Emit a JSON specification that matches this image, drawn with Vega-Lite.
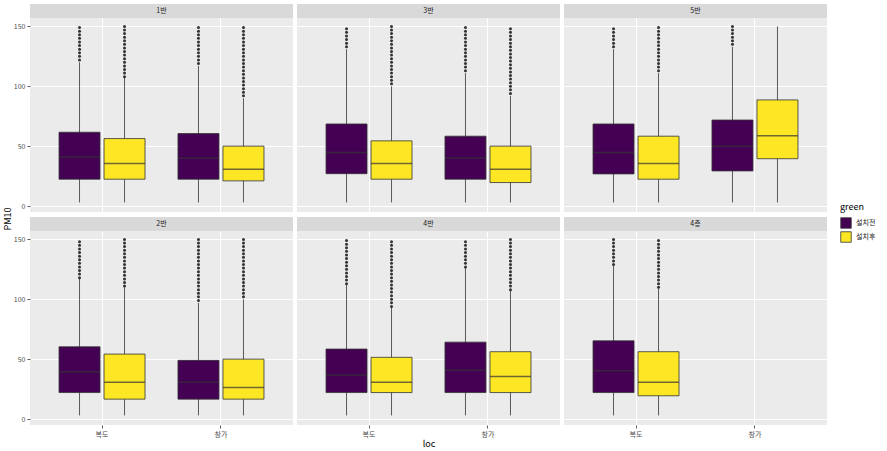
{
  "$schema": "https://vega.github.io/schema/vega-lite/v6.json",
  "padding": {"left": 4, "top": 4, "right": 5, "bottom": 5},
  "background": "#FFFFFF",
  "datasets": {
    "ytitle": [{"t": "PM10"}],
    "strips": [{"p": "1반"}, {"p": "3반"}, {"p": "5반"}, {"p": "2반"}, {"p": "4반"}, {"p": "4층"}],
    "boxes": [
      {"p": "1반", "l": "복도", "g": "설치전", "lo": 3, "q1": 22.4, "m": 40.9, "q3": 61.6, "hi": 120},
      {"p": "1반", "l": "복도", "g": "설치후", "lo": 3, "q1": 22.4, "m": 35.4, "q3": 56.3, "hi": 107},
      {"p": "1반", "l": "창가", "g": "설치전", "lo": 3, "q1": 22.4, "m": 39.8, "q3": 60.5, "hi": 117},
      {"p": "1반", "l": "창가", "g": "설치후", "lo": 3, "q1": 21, "m": 30.7, "q3": 50, "hi": 90},
      {"p": "3반", "l": "복도", "g": "설치전", "lo": 3, "q1": 27, "m": 44.7, "q3": 68.5, "hi": 131},
      {"p": "3반", "l": "복도", "g": "설치후", "lo": 3, "q1": 22.4, "m": 35.6, "q3": 54.4, "hi": 100},
      {"p": "3반", "l": "창가", "g": "설치전", "lo": 3, "q1": 22.4, "m": 40, "q3": 58.3, "hi": 111},
      {"p": "3반", "l": "창가", "g": "설치후", "lo": 3, "q1": 19.6, "m": 30.7, "q3": 50, "hi": 92},
      {"p": "5반", "l": "복도", "g": "설치전", "lo": 3, "q1": 26.8, "m": 44.7, "q3": 68.5, "hi": 131},
      {"p": "5반", "l": "복도", "g": "설치후", "lo": 3, "q1": 22.4, "m": 35.6, "q3": 58.3, "hi": 111},
      {"p": "5반", "l": "창가", "g": "설치전", "lo": 3, "q1": 29.3, "m": 50, "q3": 71.8, "hi": 133},
      {"p": "5반", "l": "창가", "g": "설치후", "lo": 3, "q1": 39.5, "m": 58.6, "q3": 88.6, "hi": 150},
      {"p": "2반", "l": "복도", "g": "설치전", "lo": 3, "q1": 22.1, "m": 39.5, "q3": 60.3, "hi": 117},
      {"p": "2반", "l": "복도", "g": "설치후", "lo": 3, "q1": 16.6, "m": 30.7, "q3": 54.2, "hi": 110},
      {"p": "2반", "l": "창가", "g": "설치전", "lo": 3, "q1": 16.6, "m": 30.7, "q3": 49, "hi": 97},
      {"p": "2반", "l": "창가", "g": "설치후", "lo": 3, "q1": 16.6, "m": 26.3, "q3": 50, "hi": 100},
      {"p": "4반", "l": "복도", "g": "설치전", "lo": 3, "q1": 22.1, "m": 36.8, "q3": 58.4, "hi": 112},
      {"p": "4반", "l": "복도", "g": "설치후", "lo": 3, "q1": 22.1, "m": 30.7, "q3": 51.5, "hi": 93},
      {"p": "4반", "l": "창가", "g": "설치전", "lo": 3, "q1": 22.1, "m": 40.7, "q3": 64.2, "hi": 126},
      {"p": "4반", "l": "창가", "g": "설치후", "lo": 3, "q1": 22.1, "m": 35.4, "q3": 56.2, "hi": 107},
      {"p": "4층", "l": "복도", "g": "설치전", "lo": 3, "q1": 22.1, "m": 40.4, "q3": 65.3, "hi": 128},
      {"p": "4층", "l": "복도", "g": "설치후", "lo": 3, "q1": 19.4, "m": 30.7, "q3": 56.2, "hi": 109}
    ],
    "outs": [
      {"p":"1반","l":"복도","g":"설치전","v":122},{"p":"1반","l":"복도","g":"설치전","v":125},{"p":"1반","l":"복도","g":"설치전","v":128},{"p":"1반","l":"복도","g":"설치전","v":131},{"p":"1반","l":"복도","g":"설치전","v":134},{"p":"1반","l":"복도","g":"설치전","v":137},{"p":"1반","l":"복도","g":"설치전","v":140},{"p":"1반","l":"복도","g":"설치전","v":143},{"p":"1반","l":"복도","g":"설치전","v":146},{"p":"1반","l":"복도","g":"설치전","v":149},
      {"p":"1반","l":"복도","g":"설치후","v":108},{"p":"1반","l":"복도","g":"설치후","v":111},{"p":"1반","l":"복도","g":"설치후","v":114},{"p":"1반","l":"복도","g":"설치후","v":117},{"p":"1반","l":"복도","g":"설치후","v":120},{"p":"1반","l":"복도","g":"설치후","v":123},{"p":"1반","l":"복도","g":"설치후","v":126},{"p":"1반","l":"복도","g":"설치후","v":129},{"p":"1반","l":"복도","g":"설치후","v":132},{"p":"1반","l":"복도","g":"설치후","v":135},{"p":"1반","l":"복도","g":"설치후","v":138},{"p":"1반","l":"복도","g":"설치후","v":141},{"p":"1반","l":"복도","g":"설치후","v":144},{"p":"1반","l":"복도","g":"설치후","v":147},{"p":"1반","l":"복도","g":"설치후","v":150},
      {"p":"1반","l":"창가","g":"설치전","v":119},{"p":"1반","l":"창가","g":"설치전","v":122},{"p":"1반","l":"창가","g":"설치전","v":125},{"p":"1반","l":"창가","g":"설치전","v":128},{"p":"1반","l":"창가","g":"설치전","v":131},{"p":"1반","l":"창가","g":"설치전","v":134},{"p":"1반","l":"창가","g":"설치전","v":137},{"p":"1반","l":"창가","g":"설치전","v":140},{"p":"1반","l":"창가","g":"설치전","v":143},{"p":"1반","l":"창가","g":"설치전","v":146},{"p":"1반","l":"창가","g":"설치전","v":149},
      {"p":"1반","l":"창가","g":"설치후","v":92},{"p":"1반","l":"창가","g":"설치후","v":95},{"p":"1반","l":"창가","g":"설치후","v":98},{"p":"1반","l":"창가","g":"설치후","v":101},{"p":"1반","l":"창가","g":"설치후","v":104},{"p":"1반","l":"창가","g":"설치후","v":107},{"p":"1반","l":"창가","g":"설치후","v":110},{"p":"1반","l":"창가","g":"설치후","v":113},{"p":"1반","l":"창가","g":"설치후","v":116},{"p":"1반","l":"창가","g":"설치후","v":119},{"p":"1반","l":"창가","g":"설치후","v":122},{"p":"1반","l":"창가","g":"설치후","v":125},{"p":"1반","l":"창가","g":"설치후","v":128},{"p":"1반","l":"창가","g":"설치후","v":131},{"p":"1반","l":"창가","g":"설치후","v":134},{"p":"1반","l":"창가","g":"설치후","v":137},{"p":"1반","l":"창가","g":"설치후","v":140},{"p":"1반","l":"창가","g":"설치후","v":143},{"p":"1반","l":"창가","g":"설치후","v":146},{"p":"1반","l":"창가","g":"설치후","v":149},
      {"p":"3반","l":"복도","g":"설치전","v":133},{"p":"3반","l":"복도","g":"설치전","v":136},{"p":"3반","l":"복도","g":"설치전","v":139},{"p":"3반","l":"복도","g":"설치전","v":142},{"p":"3반","l":"복도","g":"설치전","v":145},{"p":"3반","l":"복도","g":"설치전","v":148},
      {"p":"3반","l":"복도","g":"설치후","v":102},{"p":"3반","l":"복도","g":"설치후","v":105},{"p":"3반","l":"복도","g":"설치후","v":108},{"p":"3반","l":"복도","g":"설치후","v":111},{"p":"3반","l":"복도","g":"설치후","v":114},{"p":"3반","l":"복도","g":"설치후","v":117},{"p":"3반","l":"복도","g":"설치후","v":120},{"p":"3반","l":"복도","g":"설치후","v":123},{"p":"3반","l":"복도","g":"설치후","v":126},{"p":"3반","l":"복도","g":"설치후","v":129},{"p":"3반","l":"복도","g":"설치후","v":132},{"p":"3반","l":"복도","g":"설치후","v":135},{"p":"3반","l":"복도","g":"설치후","v":138},{"p":"3반","l":"복도","g":"설치후","v":141},{"p":"3반","l":"복도","g":"설치후","v":144},{"p":"3반","l":"복도","g":"설치후","v":147},{"p":"3반","l":"복도","g":"설치후","v":150},
      {"p":"3반","l":"창가","g":"설치전","v":113},{"p":"3반","l":"창가","g":"설치전","v":116},{"p":"3반","l":"창가","g":"설치전","v":119},{"p":"3반","l":"창가","g":"설치전","v":122},{"p":"3반","l":"창가","g":"설치전","v":125},{"p":"3반","l":"창가","g":"설치전","v":128},{"p":"3반","l":"창가","g":"설치전","v":131},{"p":"3반","l":"창가","g":"설치전","v":134},{"p":"3반","l":"창가","g":"설치전","v":137},{"p":"3반","l":"창가","g":"설치전","v":140},{"p":"3반","l":"창가","g":"설치전","v":143},{"p":"3반","l":"창가","g":"설치전","v":146},{"p":"3반","l":"창가","g":"설치전","v":149},
      {"p":"3반","l":"창가","g":"설치후","v":94},{"p":"3반","l":"창가","g":"설치후","v":97},{"p":"3반","l":"창가","g":"설치후","v":100},{"p":"3반","l":"창가","g":"설치후","v":103},{"p":"3반","l":"창가","g":"설치후","v":106},{"p":"3반","l":"창가","g":"설치후","v":109},{"p":"3반","l":"창가","g":"설치후","v":112},{"p":"3반","l":"창가","g":"설치후","v":115},{"p":"3반","l":"창가","g":"설치후","v":118},{"p":"3반","l":"창가","g":"설치후","v":121},{"p":"3반","l":"창가","g":"설치후","v":124},{"p":"3반","l":"창가","g":"설치후","v":127},{"p":"3반","l":"창가","g":"설치후","v":130},{"p":"3반","l":"창가","g":"설치후","v":133},{"p":"3반","l":"창가","g":"설치후","v":136},{"p":"3반","l":"창가","g":"설치후","v":139},{"p":"3반","l":"창가","g":"설치후","v":142},{"p":"3반","l":"창가","g":"설치후","v":145},{"p":"3반","l":"창가","g":"설치후","v":148},
      {"p":"5반","l":"복도","g":"설치전","v":133},{"p":"5반","l":"복도","g":"설치전","v":136},{"p":"5반","l":"복도","g":"설치전","v":139},{"p":"5반","l":"복도","g":"설치전","v":142},{"p":"5반","l":"복도","g":"설치전","v":145},{"p":"5반","l":"복도","g":"설치전","v":148},
      {"p":"5반","l":"복도","g":"설치후","v":113},{"p":"5반","l":"복도","g":"설치후","v":116},{"p":"5반","l":"복도","g":"설치후","v":119},{"p":"5반","l":"복도","g":"설치후","v":122},{"p":"5반","l":"복도","g":"설치후","v":125},{"p":"5반","l":"복도","g":"설치후","v":128},{"p":"5반","l":"복도","g":"설치후","v":131},{"p":"5반","l":"복도","g":"설치후","v":134},{"p":"5반","l":"복도","g":"설치후","v":137},{"p":"5반","l":"복도","g":"설치후","v":140},{"p":"5반","l":"복도","g":"설치후","v":143},{"p":"5반","l":"복도","g":"설치후","v":146},{"p":"5반","l":"복도","g":"설치후","v":149},
      {"p":"5반","l":"창가","g":"설치전","v":135},{"p":"5반","l":"창가","g":"설치전","v":138},{"p":"5반","l":"창가","g":"설치전","v":141},{"p":"5반","l":"창가","g":"설치전","v":144},{"p":"5반","l":"창가","g":"설치전","v":147},{"p":"5반","l":"창가","g":"설치전","v":150},
      {"p":"2반","l":"복도","g":"설치전","v":118},{"p":"2반","l":"복도","g":"설치전","v":121},{"p":"2반","l":"복도","g":"설치전","v":124},{"p":"2반","l":"복도","g":"설치전","v":127},{"p":"2반","l":"복도","g":"설치전","v":130},{"p":"2반","l":"복도","g":"설치전","v":133},{"p":"2반","l":"복도","g":"설치전","v":136},{"p":"2반","l":"복도","g":"설치전","v":139},{"p":"2반","l":"복도","g":"설치전","v":142},{"p":"2반","l":"복도","g":"설치전","v":145},{"p":"2반","l":"복도","g":"설치전","v":148},
      {"p":"2반","l":"복도","g":"설치후","v":111},{"p":"2반","l":"복도","g":"설치후","v":114},{"p":"2반","l":"복도","g":"설치후","v":117},{"p":"2반","l":"복도","g":"설치후","v":120},{"p":"2반","l":"복도","g":"설치후","v":123},{"p":"2반","l":"복도","g":"설치후","v":126},{"p":"2반","l":"복도","g":"설치후","v":129},{"p":"2반","l":"복도","g":"설치후","v":132},{"p":"2반","l":"복도","g":"설치후","v":135},{"p":"2반","l":"복도","g":"설치후","v":138},{"p":"2반","l":"복도","g":"설치후","v":141},{"p":"2반","l":"복도","g":"설치후","v":144},{"p":"2반","l":"복도","g":"설치후","v":147},{"p":"2반","l":"복도","g":"설치후","v":150},
      {"p":"2반","l":"창가","g":"설치전","v":99},{"p":"2반","l":"창가","g":"설치전","v":102},{"p":"2반","l":"창가","g":"설치전","v":105},{"p":"2반","l":"창가","g":"설치전","v":108},{"p":"2반","l":"창가","g":"설치전","v":111},{"p":"2반","l":"창가","g":"설치전","v":114},{"p":"2반","l":"창가","g":"설치전","v":117},{"p":"2반","l":"창가","g":"설치전","v":120},{"p":"2반","l":"창가","g":"설치전","v":123},{"p":"2반","l":"창가","g":"설치전","v":126},{"p":"2반","l":"창가","g":"설치전","v":129},{"p":"2반","l":"창가","g":"설치전","v":132},{"p":"2반","l":"창가","g":"설치전","v":135},{"p":"2반","l":"창가","g":"설치전","v":138},{"p":"2반","l":"창가","g":"설치전","v":141},{"p":"2반","l":"창가","g":"설치전","v":144},{"p":"2반","l":"창가","g":"설치전","v":147},{"p":"2반","l":"창가","g":"설치전","v":150},
      {"p":"2반","l":"창가","g":"설치후","v":102},{"p":"2반","l":"창가","g":"설치후","v":105},{"p":"2반","l":"창가","g":"설치후","v":108},{"p":"2반","l":"창가","g":"설치후","v":111},{"p":"2반","l":"창가","g":"설치후","v":114},{"p":"2반","l":"창가","g":"설치후","v":117},{"p":"2반","l":"창가","g":"설치후","v":120},{"p":"2반","l":"창가","g":"설치후","v":123},{"p":"2반","l":"창가","g":"설치후","v":126},{"p":"2반","l":"창가","g":"설치후","v":129},{"p":"2반","l":"창가","g":"설치후","v":132},{"p":"2반","l":"창가","g":"설치후","v":135},{"p":"2반","l":"창가","g":"설치후","v":138},{"p":"2반","l":"창가","g":"설치후","v":141},{"p":"2반","l":"창가","g":"설치후","v":144},{"p":"2반","l":"창가","g":"설치후","v":147},{"p":"2반","l":"창가","g":"설치후","v":150},
      {"p":"4반","l":"복도","g":"설치전","v":113},{"p":"4반","l":"복도","g":"설치전","v":116},{"p":"4반","l":"복도","g":"설치전","v":119},{"p":"4반","l":"복도","g":"설치전","v":122},{"p":"4반","l":"복도","g":"설치전","v":125},{"p":"4반","l":"복도","g":"설치전","v":128},{"p":"4반","l":"복도","g":"설치전","v":131},{"p":"4반","l":"복도","g":"설치전","v":134},{"p":"4반","l":"복도","g":"설치전","v":137},{"p":"4반","l":"복도","g":"설치전","v":140},{"p":"4반","l":"복도","g":"설치전","v":143},{"p":"4반","l":"복도","g":"설치전","v":146},{"p":"4반","l":"복도","g":"설치전","v":149},
      {"p":"4반","l":"복도","g":"설치후","v":94},{"p":"4반","l":"복도","g":"설치후","v":97},{"p":"4반","l":"복도","g":"설치후","v":100},{"p":"4반","l":"복도","g":"설치후","v":103},{"p":"4반","l":"복도","g":"설치후","v":106},{"p":"4반","l":"복도","g":"설치후","v":109},{"p":"4반","l":"복도","g":"설치후","v":112},{"p":"4반","l":"복도","g":"설치후","v":115},{"p":"4반","l":"복도","g":"설치후","v":118},{"p":"4반","l":"복도","g":"설치후","v":121},{"p":"4반","l":"복도","g":"설치후","v":124},{"p":"4반","l":"복도","g":"설치후","v":127},{"p":"4반","l":"복도","g":"설치후","v":130},{"p":"4반","l":"복도","g":"설치후","v":133},{"p":"4반","l":"복도","g":"설치후","v":136},{"p":"4반","l":"복도","g":"설치후","v":139},{"p":"4반","l":"복도","g":"설치후","v":142},{"p":"4반","l":"복도","g":"설치후","v":145},{"p":"4반","l":"복도","g":"설치후","v":148},
      {"p":"4반","l":"창가","g":"설치전","v":127},{"p":"4반","l":"창가","g":"설치전","v":130},{"p":"4반","l":"창가","g":"설치전","v":133},{"p":"4반","l":"창가","g":"설치전","v":136},{"p":"4반","l":"창가","g":"설치전","v":139},{"p":"4반","l":"창가","g":"설치전","v":142},{"p":"4반","l":"창가","g":"설치전","v":145},{"p":"4반","l":"창가","g":"설치전","v":148},
      {"p":"4반","l":"창가","g":"설치후","v":108},{"p":"4반","l":"창가","g":"설치후","v":111},{"p":"4반","l":"창가","g":"설치후","v":114},{"p":"4반","l":"창가","g":"설치후","v":117},{"p":"4반","l":"창가","g":"설치후","v":120},{"p":"4반","l":"창가","g":"설치후","v":123},{"p":"4반","l":"창가","g":"설치후","v":126},{"p":"4반","l":"창가","g":"설치후","v":129},{"p":"4반","l":"창가","g":"설치후","v":132},{"p":"4반","l":"창가","g":"설치후","v":135},{"p":"4반","l":"창가","g":"설치후","v":138},{"p":"4반","l":"창가","g":"설치후","v":141},{"p":"4반","l":"창가","g":"설치후","v":144},{"p":"4반","l":"창가","g":"설치후","v":147},{"p":"4반","l":"창가","g":"설치후","v":150},
      {"p":"4층","l":"복도","g":"설치전","v":129},{"p":"4층","l":"복도","g":"설치전","v":132},{"p":"4층","l":"복도","g":"설치전","v":135},{"p":"4층","l":"복도","g":"설치전","v":138},{"p":"4층","l":"복도","g":"설치전","v":141},{"p":"4층","l":"복도","g":"설치전","v":144},{"p":"4층","l":"복도","g":"설치전","v":147},{"p":"4층","l":"복도","g":"설치전","v":150},
      {"p":"4층","l":"복도","g":"설치후","v":110},{"p":"4층","l":"복도","g":"설치후","v":113},{"p":"4층","l":"복도","g":"설치후","v":116},{"p":"4층","l":"복도","g":"설치후","v":119},{"p":"4층","l":"복도","g":"설치후","v":122},{"p":"4층","l":"복도","g":"설치후","v":125},{"p":"4층","l":"복도","g":"설치후","v":128},{"p":"4층","l":"복도","g":"설치후","v":131},{"p":"4층","l":"복도","g":"설치후","v":134},{"p":"4층","l":"복도","g":"설치후","v":137},{"p":"4층","l":"복도","g":"설치후","v":140},{"p":"4층","l":"복도","g":"설치후","v":143},{"p":"4층","l":"복도","g":"설치후","v":146},{"p":"4층","l":"복도","g":"설치후","v":149}
    ]
  },
  "spacing": 0,
  "hconcat": [
    {"width": 8, "height": 430, "view": {"fill": null, "stroke": null}, "data": {"name": "ytitle"}, "mark": {"type": "text", "angle": 270, "fontSize": 9, "color": "#000000", "font": "Noto Sans CJK KR"}, "encoding": {"text": {"field": "t"}, "x": {"field": "t", "type": "nominal", "axis": null}, "y": {"field": "t", "type": "nominal", "axis": null}}},
    {
  "spacing": 5,
  "vconcat": [
    {
      "spacing": 4,
      "hconcat": [
        {
          "spacing": 0,
          "vconcat": [
            {"width": 263, "height": 14, "view": {"fill": "#D9D9D9", "stroke": null}, "data": {"name": "strips"}, "transform": [{"filter": "datum.p === '1반'"}], "mark": {"type": "text", "fontSize": 7, "color": "#1A1A1A", "font": "Noto Sans CJK KR"}, "encoding": {"text": {"field": "p"}, "x": {"field": "p", "type": "nominal", "axis": null}, "y": {"field": "p", "type": "nominal", "axis": null}}},
            {"width": 263, "height": 194,
             "encoding": {
               "x": {"field": "l", "type": "nominal", "scale": {"domain": ["복도", "창가"], "paddingInner": 0.277, "paddingOuter": 0.244}, "axis": {"title": null, "labels": false, "ticks": false, "grid": true, "bandPosition": 0.5, "gridWidth": 1}},
               "xOffset": {"field": "g", "type": "nominal", "scale": {"domain": ["설치전", "설치후"], "paddingInner": 0.089, "paddingOuter": 0}}
             },
             "layer": [
               {"data": {"name": "boxes"}, "transform": [{"filter": "datum.p === '1반'"}], "mark": {"type": "rule", "color": "#333333", "strokeWidth": 0.8}, "encoding": {"y": {"field": "lo", "type": "quantitative", "scale": {"domain": [-5, 157], "nice": false, "zero": false}, "axis": {"title": null, "values": [0, 25, 50, 75, 100, 125, 150], "labelExpr": "datum.value % 50 === 0 ? datum.label : ''", "tickOpacity": {"condition": {"test": "datum.value % 50 === 0", "value": 1}, "value": 0}, "gridWidth": {"condition": {"test": "datum.value % 50 === 0", "value": 1}, "value": 0.5}}}, "y2": {"field": "hi"}}},
               {"data": {"name": "boxes"}, "transform": [{"filter": "datum.p === '1반'"}], "mark": {"type": "bar", "stroke": "#333333", "strokeWidth": 0.8}, "encoding": {"y": {"field": "q1", "type": "quantitative"}, "y2": {"field": "q3"}, "color": {"field": "g", "type": "nominal", "title": "green", "scale": {"domain": ["설치전", "설치후"], "range": ["#440154", "#FDE725"]}}}},
               {"data": {"name": "boxes"}, "transform": [{"filter": "datum.p === '1반'"}], "mark": {"type": "tick", "color": "#333333", "thickness": 1.5, "size": 41}, "encoding": {"y": {"field": "m", "type": "quantitative"}}},
               {"data": {"name": "outs"}, "transform": [{"filter": "datum.p === '1반'"}], "mark": {"type": "point", "filled": true, "color": "#333333", "size": 9, "opacity": 1}, "encoding": {"y": {"field": "v", "type": "quantitative"}}}
             ]
            }
          ]
        },
        {
          "spacing": 0,
          "vconcat": [
            {"width": 263, "height": 14, "view": {"fill": "#D9D9D9", "stroke": null}, "data": {"name": "strips"}, "transform": [{"filter": "datum.p === '3반'"}], "mark": {"type": "text", "fontSize": 7, "color": "#1A1A1A", "font": "Noto Sans CJK KR"}, "encoding": {"text": {"field": "p"}, "x": {"field": "p", "type": "nominal", "axis": null}, "y": {"field": "p", "type": "nominal", "axis": null}}},
            {"width": 263, "height": 194,
             "encoding": {
               "x": {"field": "l", "type": "nominal", "scale": {"domain": ["복도", "창가"], "paddingInner": 0.277, "paddingOuter": 0.244}, "axis": {"title": null, "labels": false, "ticks": false, "grid": true, "bandPosition": 0.5, "gridWidth": 1}},
               "xOffset": {"field": "g", "type": "nominal", "scale": {"domain": ["설치전", "설치후"], "paddingInner": 0.089, "paddingOuter": 0}}
             },
             "layer": [
               {"data": {"name": "boxes"}, "transform": [{"filter": "datum.p === '3반'"}], "mark": {"type": "rule", "color": "#333333", "strokeWidth": 0.8}, "encoding": {"y": {"field": "lo", "type": "quantitative", "scale": {"domain": [-5, 157], "nice": false, "zero": false}, "axis": {"title": null, "values": [0, 25, 50, 75, 100, 125, 150], "labels": false, "ticks": false, "gridWidth": {"condition": {"test": "datum.value % 50 === 0", "value": 1}, "value": 0.5}}}, "y2": {"field": "hi"}}},
               {"data": {"name": "boxes"}, "transform": [{"filter": "datum.p === '3반'"}], "mark": {"type": "bar", "stroke": "#333333", "strokeWidth": 0.8}, "encoding": {"y": {"field": "q1", "type": "quantitative"}, "y2": {"field": "q3"}, "color": {"field": "g", "type": "nominal", "title": "green", "scale": {"domain": ["설치전", "설치후"], "range": ["#440154", "#FDE725"]}}}},
               {"data": {"name": "boxes"}, "transform": [{"filter": "datum.p === '3반'"}], "mark": {"type": "tick", "color": "#333333", "thickness": 1.5, "size": 41}, "encoding": {"y": {"field": "m", "type": "quantitative"}}},
               {"data": {"name": "outs"}, "transform": [{"filter": "datum.p === '3반'"}], "mark": {"type": "point", "filled": true, "color": "#333333", "size": 9, "opacity": 1}, "encoding": {"y": {"field": "v", "type": "quantitative"}}}
             ]
            }
          ]
        },
        {
          "spacing": 0,
          "vconcat": [
            {"width": 263, "height": 14, "view": {"fill": "#D9D9D9", "stroke": null}, "data": {"name": "strips"}, "transform": [{"filter": "datum.p === '5반'"}], "mark": {"type": "text", "fontSize": 7, "color": "#1A1A1A", "font": "Noto Sans CJK KR"}, "encoding": {"text": {"field": "p"}, "x": {"field": "p", "type": "nominal", "axis": null}, "y": {"field": "p", "type": "nominal", "axis": null}}},
            {"width": 263, "height": 194,
             "encoding": {
               "x": {"field": "l", "type": "nominal", "scale": {"domain": ["복도", "창가"], "paddingInner": 0.277, "paddingOuter": 0.244}, "axis": {"title": null, "labels": false, "ticks": false, "grid": true, "bandPosition": 0.5, "gridWidth": 1}},
               "xOffset": {"field": "g", "type": "nominal", "scale": {"domain": ["설치전", "설치후"], "paddingInner": 0.089, "paddingOuter": 0}}
             },
             "layer": [
               {"data": {"name": "boxes"}, "transform": [{"filter": "datum.p === '5반'"}], "mark": {"type": "rule", "color": "#333333", "strokeWidth": 0.8}, "encoding": {"y": {"field": "lo", "type": "quantitative", "scale": {"domain": [-5, 157], "nice": false, "zero": false}, "axis": {"title": null, "values": [0, 25, 50, 75, 100, 125, 150], "labels": false, "ticks": false, "gridWidth": {"condition": {"test": "datum.value % 50 === 0", "value": 1}, "value": 0.5}}}, "y2": {"field": "hi"}}},
               {"data": {"name": "boxes"}, "transform": [{"filter": "datum.p === '5반'"}], "mark": {"type": "bar", "stroke": "#333333", "strokeWidth": 0.8}, "encoding": {"y": {"field": "q1", "type": "quantitative"}, "y2": {"field": "q3"}, "color": {"field": "g", "type": "nominal", "title": "green", "scale": {"domain": ["설치전", "설치후"], "range": ["#440154", "#FDE725"]}}}},
               {"data": {"name": "boxes"}, "transform": [{"filter": "datum.p === '5반'"}], "mark": {"type": "tick", "color": "#333333", "thickness": 1.5, "size": 41}, "encoding": {"y": {"field": "m", "type": "quantitative"}}},
               {"data": {"name": "outs"}, "transform": [{"filter": "datum.p === '5반'"}], "mark": {"type": "point", "filled": true, "color": "#333333", "size": 9, "opacity": 1}, "encoding": {"y": {"field": "v", "type": "quantitative"}}}
             ]
            }
          ]
        }
      ]
    },
    {
      "spacing": 4,
      "hconcat": [
        {
          "spacing": 0,
          "vconcat": [
            {"width": 263, "height": 14, "view": {"fill": "#D9D9D9", "stroke": null}, "data": {"name": "strips"}, "transform": [{"filter": "datum.p === '2반'"}], "mark": {"type": "text", "fontSize": 7, "color": "#1A1A1A", "font": "Noto Sans CJK KR"}, "encoding": {"text": {"field": "p"}, "x": {"field": "p", "type": "nominal", "axis": null}, "y": {"field": "p", "type": "nominal", "axis": null}}},
            {"width": 263, "height": 194,
             "encoding": {
               "x": {"field": "l", "type": "nominal", "scale": {"domain": ["복도", "창가"], "paddingInner": 0.277, "paddingOuter": 0.244}, "axis": {"title": null, "grid": true, "bandPosition": 0.5, "gridWidth": 1, "labelAngle": 0}},
               "xOffset": {"field": "g", "type": "nominal", "scale": {"domain": ["설치전", "설치후"], "paddingInner": 0.089, "paddingOuter": 0}}
             },
             "layer": [
               {"data": {"name": "boxes"}, "transform": [{"filter": "datum.p === '2반'"}], "mark": {"type": "rule", "color": "#333333", "strokeWidth": 0.8}, "encoding": {"y": {"field": "lo", "type": "quantitative", "scale": {"domain": [-5, 157], "nice": false, "zero": false}, "axis": {"title": null, "values": [0, 25, 50, 75, 100, 125, 150], "labelExpr": "datum.value % 50 === 0 ? datum.label : ''", "tickOpacity": {"condition": {"test": "datum.value % 50 === 0", "value": 1}, "value": 0}, "gridWidth": {"condition": {"test": "datum.value % 50 === 0", "value": 1}, "value": 0.5}}}, "y2": {"field": "hi"}}},
               {"data": {"name": "boxes"}, "transform": [{"filter": "datum.p === '2반'"}], "mark": {"type": "bar", "stroke": "#333333", "strokeWidth": 0.8}, "encoding": {"y": {"field": "q1", "type": "quantitative"}, "y2": {"field": "q3"}, "color": {"field": "g", "type": "nominal", "title": "green", "scale": {"domain": ["설치전", "설치후"], "range": ["#440154", "#FDE725"]}}}},
               {"data": {"name": "boxes"}, "transform": [{"filter": "datum.p === '2반'"}], "mark": {"type": "tick", "color": "#333333", "thickness": 1.5, "size": 41}, "encoding": {"y": {"field": "m", "type": "quantitative"}}},
               {"data": {"name": "outs"}, "transform": [{"filter": "datum.p === '2반'"}], "mark": {"type": "point", "filled": true, "color": "#333333", "size": 9, "opacity": 1}, "encoding": {"y": {"field": "v", "type": "quantitative"}}}
             ]
            }
          ]
        },
        {
          "spacing": 0,
          "vconcat": [
            {"width": 263, "height": 14, "view": {"fill": "#D9D9D9", "stroke": null}, "data": {"name": "strips"}, "transform": [{"filter": "datum.p === '4반'"}], "mark": {"type": "text", "fontSize": 7, "color": "#1A1A1A", "font": "Noto Sans CJK KR"}, "encoding": {"text": {"field": "p"}, "x": {"field": "p", "type": "nominal", "axis": null}, "y": {"field": "p", "type": "nominal", "axis": null}}},
            {"width": 263, "height": 194,
             "encoding": {
               "x": {"field": "l", "type": "nominal", "scale": {"domain": ["복도", "창가"], "paddingInner": 0.277, "paddingOuter": 0.244}, "axis": {"title": "loc", "grid": true, "bandPosition": 0.5, "gridWidth": 1, "labelAngle": 0}},
               "xOffset": {"field": "g", "type": "nominal", "scale": {"domain": ["설치전", "설치후"], "paddingInner": 0.089, "paddingOuter": 0}}
             },
             "layer": [
               {"data": {"name": "boxes"}, "transform": [{"filter": "datum.p === '4반'"}], "mark": {"type": "rule", "color": "#333333", "strokeWidth": 0.8}, "encoding": {"y": {"field": "lo", "type": "quantitative", "scale": {"domain": [-5, 157], "nice": false, "zero": false}, "axis": {"title": null, "values": [0, 25, 50, 75, 100, 125, 150], "labels": false, "ticks": false, "gridWidth": {"condition": {"test": "datum.value % 50 === 0", "value": 1}, "value": 0.5}}}, "y2": {"field": "hi"}}},
               {"data": {"name": "boxes"}, "transform": [{"filter": "datum.p === '4반'"}], "mark": {"type": "bar", "stroke": "#333333", "strokeWidth": 0.8}, "encoding": {"y": {"field": "q1", "type": "quantitative"}, "y2": {"field": "q3"}, "color": {"field": "g", "type": "nominal", "title": "green", "scale": {"domain": ["설치전", "설치후"], "range": ["#440154", "#FDE725"]}}}},
               {"data": {"name": "boxes"}, "transform": [{"filter": "datum.p === '4반'"}], "mark": {"type": "tick", "color": "#333333", "thickness": 1.5, "size": 41}, "encoding": {"y": {"field": "m", "type": "quantitative"}}},
               {"data": {"name": "outs"}, "transform": [{"filter": "datum.p === '4반'"}], "mark": {"type": "point", "filled": true, "color": "#333333", "size": 9, "opacity": 1}, "encoding": {"y": {"field": "v", "type": "quantitative"}}}
             ]
            }
          ]
        },
        {
          "spacing": 0,
          "vconcat": [
            {"width": 263, "height": 14, "view": {"fill": "#D9D9D9", "stroke": null}, "data": {"name": "strips"}, "transform": [{"filter": "datum.p === '4층'"}], "mark": {"type": "text", "fontSize": 7, "color": "#1A1A1A", "font": "Noto Sans CJK KR"}, "encoding": {"text": {"field": "p"}, "x": {"field": "p", "type": "nominal", "axis": null}, "y": {"field": "p", "type": "nominal", "axis": null}}},
            {"width": 263, "height": 194,
             "encoding": {
               "x": {"field": "l", "type": "nominal", "scale": {"domain": ["복도", "창가"], "paddingInner": 0.277, "paddingOuter": 0.244}, "axis": {"title": null, "grid": true, "bandPosition": 0.5, "gridWidth": 1, "labelAngle": 0}},
               "xOffset": {"field": "g", "type": "nominal", "scale": {"domain": ["설치전", "설치후"], "paddingInner": 0.089, "paddingOuter": 0}}
             },
             "layer": [
               {"data": {"name": "boxes"}, "transform": [{"filter": "datum.p === '4층'"}], "mark": {"type": "rule", "color": "#333333", "strokeWidth": 0.8}, "encoding": {"y": {"field": "lo", "type": "quantitative", "scale": {"domain": [-5, 157], "nice": false, "zero": false}, "axis": {"title": null, "values": [0, 25, 50, 75, 100, 125, 150], "labels": false, "ticks": false, "gridWidth": {"condition": {"test": "datum.value % 50 === 0", "value": 1}, "value": 0.5}}}, "y2": {"field": "hi"}}},
               {"data": {"name": "boxes"}, "transform": [{"filter": "datum.p === '4층'"}], "mark": {"type": "bar", "stroke": "#333333", "strokeWidth": 0.8}, "encoding": {"y": {"field": "q1", "type": "quantitative"}, "y2": {"field": "q3"}, "color": {"field": "g", "type": "nominal", "title": "green", "scale": {"domain": ["설치전", "설치후"], "range": ["#440154", "#FDE725"]}}}},
               {"data": {"name": "boxes"}, "transform": [{"filter": "datum.p === '4층'"}], "mark": {"type": "tick", "color": "#333333", "thickness": 1.5, "size": 41}, "encoding": {"y": {"field": "m", "type": "quantitative"}}},
               {"data": {"name": "outs"}, "transform": [{"filter": "datum.p === '4층'"}], "mark": {"type": "point", "filled": true, "color": "#333333", "size": 9, "opacity": 1}, "encoding": {"y": {"field": "v", "type": "quantitative"}}}
             ]
            }
          ]
        }
      ]
    }
  ]
    }
  ],
  "config": {
    "font": "Noto Sans CJK KR",
    "view": {"fill": "#EBEBEB", "stroke": null},
    "axis": {"labelFont": "Noto Sans CJK KR", "titleFont": "Noto Sans CJK KR", "labelFontSize": 7, "labelColor": "#4D4D4D", "tickColor": "#333333", "tickSize": 3, "tickWidth": 0.8, "domain": false, "gridColor": "#FFFFFF", "titleFontWeight": "normal", "titleFontSize": 9, "titleColor": "#000000", "labelPadding": 2, "titlePadding": 2},
    "legend": {"orient": "none", "legendX": 836, "legendY": 199, "symbolType": "square", "symbolSize": 110, "symbolStrokeColor": "#333333", "symbolStrokeWidth": 0.8, "symbolOpacity": 1, "labelFontSize": 7, "labelColor": "#1A1A1A", "titleFontSize": 9, "titleFontWeight": "normal", "titleColor": "#000000", "rowPadding": 0, "labelFont": "Noto Sans CJK KR", "titleFont": "Noto Sans CJK KR"}
  }
}
